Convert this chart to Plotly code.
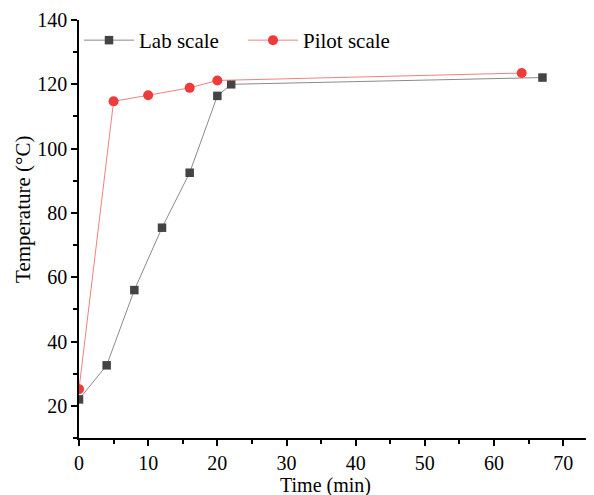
import plotly.graph_objects as go

lab_time = [0, 4, 8, 12, 16, 20, 22, 67]
lab_temp = [22, 32.6, 56.0, 75.4, 92.5, 116.4, 120.0, 122.1]
pilot_time = [0, 5, 10, 16, 20, 64]
pilot_temp = [25.2, 114.7, 116.6, 118.9, 121.2, 123.5]

x_title = "Time (min)"
y_title = "Temperature (°C)"

font = "Liberation Serif"

fig = go.Figure()
fig.add_trace(go.Scatter(
    x=lab_time, y=lab_temp, mode="lines+markers", name="Lab scale",
    line=dict(color="#8a8a8a", width=1),
    marker=dict(symbol="square", size=8.5, color="#444444"),
))
fig.add_trace(go.Scatter(
    x=pilot_time, y=pilot_temp, mode="lines+markers", name="Pilot scale",
    line=dict(color="#f08080", width=1),
    marker=dict(symbol="circle", size=10, color="#ee3b3b"),
))

axis_common = dict(
    showline=True, linecolor="black", linewidth=1.5, mirror=False,
    ticks="outside", ticklen=6, tickwidth=1.5, tickcolor="black",
    showgrid=False, zeroline=False,
    tickfont=dict(family=font, size=20, color="black"),
)

fig.update_xaxes(
    range=[0, 74.45], dtick=10, tick0=0,
    minor=dict(dtick=5, ticks="outside", ticklen=4, tickwidth=1.5, tickcolor="black"),
    **axis_common,
)
fig.update_yaxes(
    range=[10, 140], dtick=20, tick0=0,
    minor=dict(dtick=10, ticks="outside", ticklen=4, tickwidth=1.5, tickcolor="black"),
    **axis_common,
)

fig.add_annotation(
    text=x_title, xref="paper", yref="paper", x=0.4786, y=0,
    xanchor="center", yanchor="middle", yshift=-47, showarrow=False, borderpad=0,
    font=dict(family=font, size=20, color="black"),
)
fig.add_annotation(
    text=y_title, xref="paper", yref="paper", x=0, y=0.5455,
    xanchor="center", yanchor="middle", xshift=-56, textangle=-90, showarrow=False,
    font=dict(family=font, size=21, color="black"),
)

fig.update_layout(
    width=586, height=487,
    margin=dict(l=71, r=0, t=12, b=57),
    plot_bgcolor="white", paper_bgcolor="white",
    font=dict(family=font, size=20, color="black"),
    legend=dict(
        orientation="h", x=0.0, y=1.0, xanchor="left", yanchor="top",
        bgcolor="rgba(0,0,0,0)", font=dict(family=font, size=21, color="black"),
        itemwidth=50, entrywidth=99,
    ),
)

fig.write_html("out.html")
